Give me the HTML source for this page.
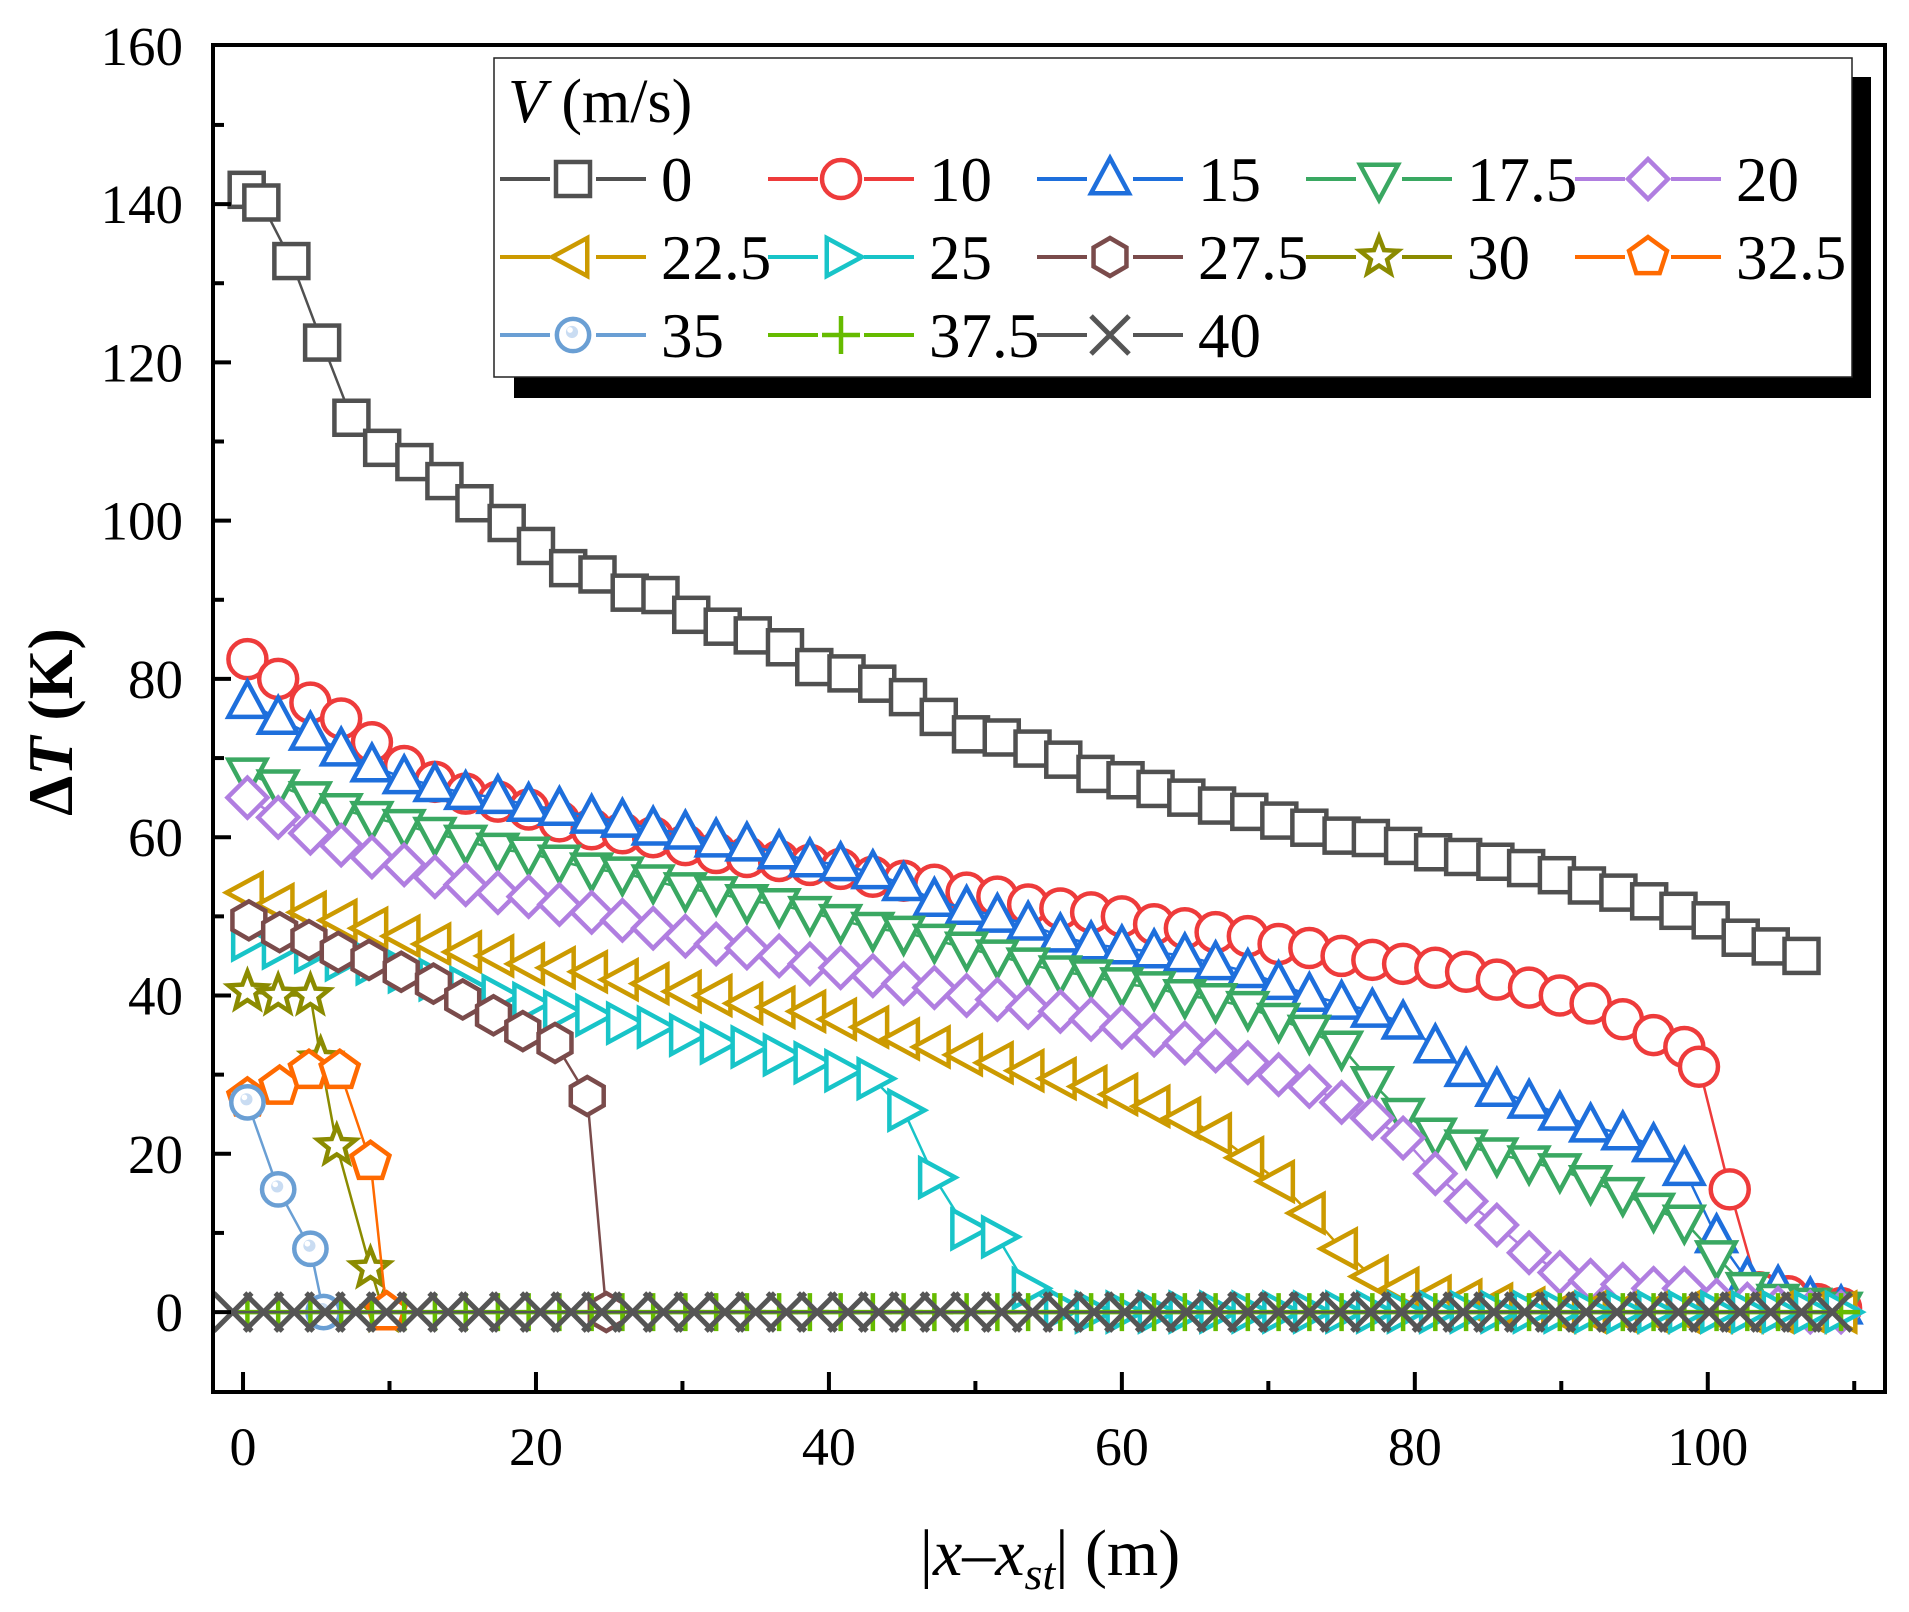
<!DOCTYPE html>
<html><head><meta charset="utf-8"><style>
html,body{margin:0;padding:0;background:#fff}
svg{display:block}
text{font-family:"Liberation Serif",serif;fill:#000}
</style></head><body>
<svg id="chart" width="1909" height="1612" viewBox="0 0 1909 1612" xmlns="http://www.w3.org/2000/svg">
<g id="series-layer"></g>
<g id="axes-layer"></g>
<g id="legend-layer"></g>
</svg>
<script>
// ---- data ----
const xTicks = [0, 20, 40, 60, 80, 100];
const yTicks = [0, 20, 40, 60, 80, 100, 120, 140, 160];
const legendLabels = ["0","10","15","17.5","20","22.5","25","27.5","30","32.5","35","37.5","40"];
const xsCommon = [0.3,2.4,4.6,6.7,8.8,11.0,13.1,15.2,17.4,19.5,21.6,23.8,25.9,28.0,30.2,32.3,34.4,36.6,38.7,40.8,43.0,45.1,47.2,49.4,51.5,53.6,55.8,57.9,60.0,62.2,64.3,66.4,68.6,70.7,72.8,75.0,77.1,79.2,81.4,83.5,85.6,87.8,89.9,92.0,94.2,96.3,98.4,100.6,102.7,104.8,107.0,109.1];
const xsV0 = [0.25,1.25,3.3,5.4,7.4,9.5,11.7,13.75,15.8,18.0,20.0,22.2,24.2,26.4,28.5,30.6,32.75,34.8,37.0,39.0,41.2,43.3,45.4,47.5,49.7,51.8,53.9,56.0,58.2,60.25,62.3,64.4,66.5,68.7,70.75,72.8,75.0,77.0,79.2,81.25,83.3,85.5,87.6,89.7,91.75,93.9,96.0,98.0,100.2,102.25,104.3,106.4];
const yV0 = [141.8,140.2,132.8,122.5,113,109.2,107.4,105,102.2,99.7,96.8,94,93.2,90.9,90.6,88.1,86.6,85.5,84,81.5,80.7,79.4,77.7,75.2,73,72.6,71.2,69.8,68,67.2,66.1,65,64,63.2,62.1,61.2,60.2,59.9,58.9,58.1,57.5,56.9,56.1,55.2,53.9,53,51.9,50.7,49.5,47.3,46.2,45];
const xsV10 = [0.3,2.4,4.6,6.7,8.8,11.0,13.1,15.2,17.4,19.5,21.6,23.8,25.9,28.0,30.2,32.3,34.4,36.6,38.7,40.8,43.0,45.1,47.2,49.4,51.5,53.6,55.8,57.9,60.0,62.2,64.3,66.4,68.6,70.7,72.8,75.0,77.1,79.2,81.4,83.5,85.6,87.8,89.9,92.0,94.2,96.3,98.4,99.4,101.5,103.5,105.5,107.5,109.1];
const yV10 = [82.5,80,77,75,72,69,67,65.5,64.5,63.5,62,61,60.5,60,59,58,57.5,57,56.5,56,55,54.5,54,53,52.5,51.5,51,50.5,50,49,48.5,48,47.5,46.5,46,45,44.5,44,43.5,43,42,41,40,39,37,35,33.5,31,15.5,2.5,2,1,0.5];
const yV15 = [77,75,73,71,69,67.5,66.5,65.5,65,64,63.5,62.5,62,61,60.5,59.5,59,58,57,56.5,55.5,54,52,51,50,49,47.5,46.5,46,45.5,45,44,43,41.5,40,39,38,36.5,33.5,30.5,28,26.5,25,23.5,22.5,21,18,9.5,4,3,1.5,0.5];
const yV175 = [68,66.5,65,63.5,62.5,61.5,60.5,59.5,58.5,58,57,56,55.5,54.5,53.5,53,52,51.5,50.5,49.5,48.5,48,47,46,45,44,43,42.5,41.5,41,40,39.5,38.5,37,35.5,33.5,29,25,22.5,21,20,19,18,16.5,15,13,11.5,7,3,1.5,1,0.5];
const yV20 = [65,62.5,60.5,59,57.5,56.5,55,54,53,52.5,51.5,50.5,49.5,48.5,47.5,46.5,46,45,44,43.5,42.5,41.5,41,40,39.5,38.5,38,37,36,35,34,33,31.5,30,28.5,26.5,24.5,22,17.5,14,11,7.5,5,4,3.5,3,3,1.5,1,0.5,0,0];
const yV225 = [53,51.5,50.5,49.5,48.5,47.5,46.5,45.5,45,44,43.5,43,42,41.5,40.5,40,39,38.5,38,37,36,34.5,33.5,32.5,31.5,30.5,29.5,28.5,27.5,26,24.5,22.5,19.5,16.5,12.5,8,4.5,3,2,1.5,1,0.5,0,0,0,0,0,0,0,0,0,0];
const yV25 = [47,46,45.5,44.5,44,43,42,41,40,39,38,37.5,36.5,36,35,34,33.5,32.5,31.5,30.5,29.5,25.5,17,10.5,9.5,3,0.5,0,0,0,0,0,0,0,0,0,0,0,0,0,0,0,0,0,0,0,0,0,0,0,0,0];
const xsV275 = [0.4,2.5,4.5,6.5,8.6,10.8,13.0,15.0,17.1,19.1,21.3,23.5,24.8];
const yV275 = [49.5,48,47,45.5,44.5,43,41.5,39.5,37.5,35.5,34,27.3,0];
const xsV30 = [0.3,2.4,4.6,5.3,6.4,8.7,9.6];
const yV30 = [40.5,40,40,32,21,5.5,0];
const xsV325 = [0.3,2.5,4.5,6.6,8.7,9.8];
const yV325 = [27,28.5,30.5,30.5,19,0];
const xsV35 = [0.3,2.4,4.6,5.5];
const yV35 = [26.5,15.5,8,0];
const yV375 = [0,0,0,0,0,0,0,0,0,0,0,0,0,0,0,0,0,0,0,0,0,0,0,0,0,0,0,0,0,0,0,0,0,0,0,0,0,0,0,0,0,0,0,0,0,0,0,0,0,0,0,0];
const xsV40 = [-0.7,1.4,3.5,5.6,7.7,9.8,11.9,14.0,16.1,18.2,20.3,22.4,24.5,26.6,28.7,30.8,32.9,35.0,37.1,39.2,41.3,43.4,45.5,47.6,49.7,51.8,53.9,56.0,58.1,60.2,62.3,64.4,66.5,68.6,70.7,72.8,74.9,77.0,79.1,81.2,83.3,85.4,87.5,89.6,91.7,93.8,95.9,98.0,100.1,102.2,104.3,106.4,108.5];
const yV40 = [0,0,0,0,0,0,0,0,0,0,0,0,0,0,0,0,0,0,0,0,0,0,0,0,0,0,0,0,0,0,0,0,0,0,0,0,0,0,0,0,0,0,0,0,0,0,0,0,0,0,0,0,0];

// ---- layout ----
const L=213, R=1885, T=45, B=1392;
const XMIN=-2.05, XMAX=112.1, YMIN=-10.1, YMAX=160.1;
function sx(v){return L+(v-XMIN)/(XMAX-XMIN)*(R-L);}
function sy(v){return B-(v-YMIN)/(YMAX-YMIN)*(B-T);}
const NS="http://www.w3.org/2000/svg";
function mk(tag,attrs,parent){const e=document.createElementNS(NS,tag);for(const k in attrs)e.setAttribute(k,attrs[k]);if(parent)parent.appendChild(e);return e;}

const seriesDefs=[
 {xs:xsV0,ys:yV0,c:"#505050",m:"square"},
 {xs:xsV10,ys:yV10,c:"#ee3b3b",m:"circle"},
 {xs:xsCommon,ys:yV15,c:"#1e6fdc",m:"up"},
 {xs:xsCommon,ys:yV175,c:"#3aa862",m:"down"},
 {xs:xsCommon,ys:yV20,c:"#b07ee0",m:"diamond"},
 {xs:xsCommon,ys:yV225,c:"#cc9a00",m:"left"},
 {xs:xsCommon,ys:yV25,c:"#18c4c8",m:"right"},
 {xs:xsV275,ys:yV275,c:"#7a4b4b",m:"hex"},
 {xs:xsV30,ys:yV30,c:"#8b8b00",m:"star"},
 {xs:xsV325,ys:yV325,c:"#ff6a00",m:"pent"},
 {xs:xsV35,ys:yV35,c:"#6a9fd4",m:"ball"},
 {xs:xsCommon,ys:yV375,c:"#66bb00",m:"plus"},
 {xs:xsV40,ys:yV40,c:"#555555",m:"x"}
];

function marker(g,type,x,y,c,s){
 const h=s/2, sw=4.5;
 const base={fill:"#fff",stroke:c,"stroke-width":sw,"stroke-linejoin":"miter"};
 let e;
 const poly=(pts)=>{const a=Object.assign({points:pts.map(p=>(x+p[0])+","+(y+p[1])).join(" ")},base);return mk("polygon",a,g);};
 switch(type){
  case "square": e=mk("rect",Object.assign({x:x-h+2,y:y-h+2,width:s-4,height:s-4},base),g);break;
  case "circle": e=mk("circle",Object.assign({cx:x,cy:y,r:h},base),g);break;
  case "up": e=poly([[0,-h*1.1],[h,h*0.75],[-h,h*0.75]]);break;
  case "down": e=poly([[0,h*1.1],[h,-h*0.75],[-h,-h*0.75]]);break;
  case "diamond": e=poly([[0,-h*1.05],[h*1.05,0],[0,h*1.05],[-h*1.05,0]]);break;
  case "left": e=poly([[-h*1.1,0],[h*0.75,-h],[h*0.75,h]]);break;
  case "right": e=poly([[h*1.1,0],[-h*0.75,-h],[-h*0.75,h]]);break;
  case "hex": {const p=[];for(let i=0;i<6;i++){const a=Math.PI/2+i*Math.PI/3;p.push([h*Math.cos(a),h*Math.sin(a)]);}e=poly(p);break;}
  case "pent": {const p=[];for(let i=0;i<5;i++){const a=-Math.PI/2+i*2*Math.PI/5;p.push([h*1.05*Math.cos(a),h*1.05*Math.sin(a)]);}e=poly(p);break;}
  case "star": {const p=[];for(let i=0;i<10;i++){const a=-Math.PI/2+i*Math.PI/5;const r=i%2?h*0.45:h*1.05;p.push([r*Math.cos(a),r*Math.sin(a)]);}e=poly(p);break;}
  case "ball": e=mk("g",{},g);
   mk("circle",Object.assign({cx:x,cy:y,r:h*0.85},base),e);
   mk("circle",{cx:x-1,cy:y-3,r:h*0.32,fill:"#c9dcf2",stroke:"none"},e);
   mk("circle",{cx:x-3,cy:y-5,r:h*0.15,fill:"#fff",stroke:"none"},e);break;
  case "plus": e=mk("path",{d:`M${x-h} ${y}H${x+h}M${x} ${y-h}V${y+h}`,stroke:c,"stroke-width":sw,fill:"none"},g);break;
  case "x": e=mk("path",{d:`M${x-h} ${y-h}L${x+h} ${y+h}M${x-h} ${y+h}L${x+h} ${y-h}`,stroke:c,"stroke-width":sw+0.5,fill:"none"},g);break;
 }
 return e;
}

// ---- series ----
const sl=document.getElementById("series-layer");
seriesDefs.forEach((d,i)=>{
 const g=mk("g",{},sl);
 
 
 const pts=d.xs.map((x,j)=>sx(x).toFixed(1)+","+sy(d.ys[j]).toFixed(1)).join(" ");
 const line=mk("polyline",{points:pts,fill:"none",stroke:d.c,"stroke-width":2.5},g);
 
 
 d.xs.forEach((x,j)=>{
  const m=marker(g,d.m,sx(x),sy(d.ys[j]),d.c,38);
  
  
 });
});

// ---- axes ----
const al=document.getElementById("axes-layer");
const frame=mk("rect",{x:L,y:T,width:R-L,height:B-T,fill:"none",stroke:"#000","stroke-width":4},al);


for(let v=0;v<=110;v+=10){
 const major=v%20===0;
 const t=mk("line",{x1:sx(v),x2:sx(v),y1:B,y2:B-(major?20:11),stroke:"#000","stroke-width":4},al);
 
 
}
xTicks.forEach(v=>{
 const t=mk("text",{x:sx(v),y:1465,"text-anchor":"middle","font-size":54},al);
 t.textContent=v;
 
 
});
for(let v=0;v<=150;v+=10){
 const major=v%20===0;
 const t=mk("line",{x1:L,x2:L+(major?18:11),y1:sy(v),y2:sy(v),stroke:"#000","stroke-width":4},al);
 
 
}
yTicks.forEach(v=>{
 const t=mk("text",{x:183,y:sy(v)+19,"text-anchor":"end","font-size":55},al);
 t.textContent=v;
 
 
});
</script>
<svg style="position:absolute;left:0;top:0" width="1909" height="1612" viewBox="0 0 1909 1612" xmlns="http://www.w3.org/2000/svg">
 <text x="1050" y="1575" text-anchor="middle" font-size="66" font-family="Liberation Serif, serif">|<tspan font-style="italic">x</tspan>–<tspan font-style="italic">x</tspan><tspan font-style="italic" font-size="46" dy="14">st</tspan><tspan dy="-14">| (m)</tspan></text>
 <text transform="translate(72,722) rotate(-90)" text-anchor="middle" font-size="64" font-weight="bold" font-family="Liberation Serif, serif">Δ<tspan font-style="italic">T</tspan> (K)</text>
</svg>
<script>
// ---- legend ----
const lg=document.getElementById("legend-layer");
const sh=mk("rect",{x:514,y:77,width:1357,height:321,fill:"#000"},lg);


const bx=mk("rect",{x:494,y:58,width:1358,height:319,fill:"#fff",stroke:"#222","stroke-width":1.5},lg);


const lt=mk("text",{x:508,y:122,"font-size":62},lg);
lt.innerHTML='<tspan font-style="italic">V</tspan> (m/s)';


const colX=[500,768,1037,1306,1575], rowY=[179,257,335];
seriesDefs.forEach((d,i)=>{
 const cx=colX[i%5], cy=rowY[Math.floor(i/5)];
 const g=mk("g",{},lg);
 
 
 mk("line",{x1:cx,x2:cx+146,y1:cy,y2:cy,stroke:d.c,"stroke-width":4},g);
 mk("rect",{x:cx+50,y:cy-25,width:46,height:50,fill:"#fff"},g);
 marker(g,d.m,cx+73,cy,d.c,38);
 const t=mk("text",{x:cx+161,y:cy+22,"font-size":63},g);
 t.textContent=legendLabels[i];
});
</script>
</body></html>
